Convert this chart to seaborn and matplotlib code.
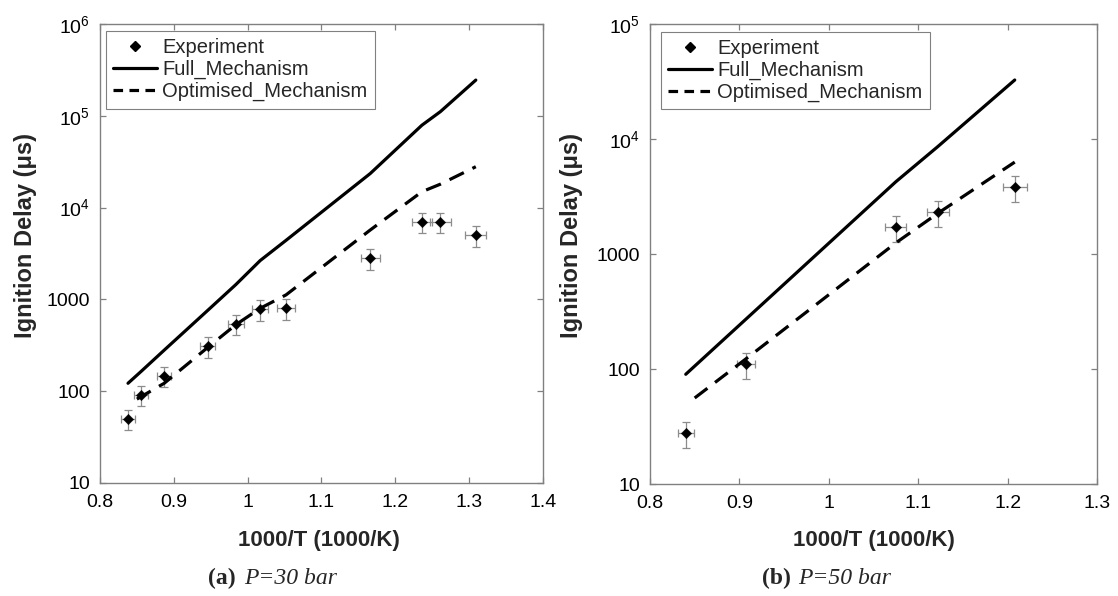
import numpy as np
import pandas as pd
import matplotlib
matplotlib.use("Agg")
import matplotlib.pyplot as plt
from matplotlib.lines import Line2D
import seaborn as sns

# ---- data ----
# (a) P = 30 bar
exp30_x = [0.838, 0.856, 0.887, 0.946, 0.984, 1.017, 1.052, 1.166, 1.236, 1.261, 1.309]
exp30_y = [50, 92, 147, 310, 543, 780, 800, 2800, 6970, 6970, 4990]
full30_x = [0.838, 0.856, 0.887, 0.946, 0.984, 1.017, 1.052, 1.166, 1.236, 1.261, 1.309]
full30_y = [122, 165, 280, 760, 1450, 2650, 4400, 23500, 79000, 111000, 245000]
opt30_x = [0.850, 0.887, 0.946, 0.984, 1.017, 1.052, 1.166, 1.236, 1.261, 1.309]
opt30_y = [82, 122, 300, 530, 800, 1120, 5700, 14900, 18000, 27900]

# (b) P = 50 bar
exp50_x = [0.840, 0.907, 1.075, 1.122, 1.208]
exp50_y = [27.6, 110, 1706, 2307, 3800]
full50_x = [0.840, 0.907, 1.075, 1.122, 1.208]
full50_y = [90, 270, 4250, 8600, 32600]
opt50_x = [0.850, 0.907, 1.075, 1.122, 1.208]
opt50_y = [56, 122, 1250, 2260, 6300]

# relative uncertainties of the measurements
Y_ERR_FRAC = 0.25
X_ERR_FRAC = 0.011

ticks30 = [10, 100, 1000, 1e4, 1e5, 1e6]
ticklabels30 = ["10", "100", "1000", r"$\mathregular{10^4}$", r"$\mathregular{10^5}$", r"$\mathregular{10^6}$"]
ticks50 = [10, 100, 1000, 1e4, 1e5]
ticklabels50 = ["10", "100", "1000", r"$\mathregular{10^4}$", r"$\mathregular{10^5}$"]

sns.set_theme(style="ticks")
plt.rcParams["font.family"] = ["Liberation Sans", "DejaVu Sans"]
plt.rcParams["mathtext.fontset"] = "custom"
plt.rcParams["mathtext.rm"] = "Liberation Sans"

GRAY = "#808080"
ERR_GRAY = "#8c8c8c"


def draw_panel(ax, ex, ey, fx, fy, ox, oy, xlim, ylim, ticks, ticklabels, xticks):
    exp = pd.DataFrame({"x": ex, "y": ey})
    full = pd.DataFrame({"x": fx, "y": fy})
    opt = pd.DataFrame({"x": ox, "y": oy})

    ax.errorbar(exp["x"], exp["y"], xerr=exp["x"] * X_ERR_FRAC,
                yerr=exp["y"] * Y_ERR_FRAC, fmt="none", ecolor=ERR_GRAY,
                elinewidth=0.9, capsize=3, capthick=0.9, zorder=2)
    sns.lineplot(data=full, x="x", y="y", ax=ax, color="black", lw=2.3,
                 sort=False, zorder=3)
    sns.lineplot(data=opt, x="x", y="y", ax=ax, color="black", lw=2.3,
                 linestyle=(0, (5, 3)), sort=False, zorder=3)
    sns.scatterplot(data=exp, x="x", y="y", ax=ax, marker="D", s=28,
                    color="black", edgecolor="black", linewidth=0.3, zorder=4)

    ax.set_yscale("log")
    ax.set_xlim(*xlim)
    ax.set_ylim(*ylim)
    ax.set_xticks(xticks)
    ax.set_xticklabels([f"{t:g}" for t in xticks])
    ax.set_yticks(ticks)
    ax.set_yticklabels(ticklabels)
    ax.yaxis.set_minor_locator(matplotlib.ticker.NullLocator())

    for sp in ax.spines.values():
        sp.set_visible(True)
        sp.set_color(GRAY)
        sp.set_linewidth(1.0)
    ax.tick_params(axis="both", which="both", direction="in", length=4,
                   width=0.9, color=GRAY, labelsize=14, top=True, right=True,
                   labelcolor="black")
    ax.tick_params(axis="x", pad=8)
    ax.tick_params(axis="y", pad=7)

    ax.set_xlabel("1000/T (1000/K)", fontsize=16, fontweight="bold")
    ax.set_ylabel("Ignition Delay (\u03bcs)", fontsize=17, fontweight="bold")

    handles = [
        Line2D([], [], ls="none", marker="D", ms=5, color="black"),
        Line2D([], [], color="black", lw=2.3),
        Line2D([], [], color="black", lw=2.3, ls=(0, (3, 2))),
    ]
    leg = ax.legend(handles, ["Experiment", "Full_Mechanism", "Optimised_Mechanism"],
                    loc="upper left", fontsize=14.5, frameon=True, fancybox=False,
                    framealpha=1, edgecolor=GRAY, handlelength=2.2,
                    handletextpad=0.25, labelspacing=0.15, borderpad=0.35,
                    borderaxespad=0)
    leg.get_frame().set_linewidth(0.8)
    return leg


fig = plt.figure(figsize=(11.18, 5.96), dpi=100)
ax1 = fig.add_axes([0.0894, 0.1896, 0.3963, 0.7701])
ax2 = fig.add_axes([0.5814, 0.1879, 0.3998, 0.7718])

leg1 = draw_panel(ax1, exp30_x, exp30_y, full30_x, full30_y, opt30_x, opt30_y,
                  (0.8, 1.4), (10, 1e6), ticks30, ticklabels30,
                  [0.8, 0.9, 1.0, 1.1, 1.2, 1.3, 1.4])
leg1.set_bbox_to_anchor((0.0135, 0.985), transform=ax1.transAxes)
ax1.yaxis.set_label_coords(-0.142, 0.54)
ax1.xaxis.set_label_coords(0.494, -0.102)

leg2 = draw_panel(ax2, exp50_x, exp50_y, full50_x, full50_y, opt50_x, opt50_y,
                  (0.8, 1.3), (10, 1e5), ticks50, ticklabels50,
                  [0.8, 0.9, 1.0, 1.1, 1.2, 1.3])
leg2.set_bbox_to_anchor((0.0246, 0.983), transform=ax2.transAxes)
ax2.yaxis.set_label_coords(-0.15, 0.54)
ax2.xaxis.set_label_coords(0.501, -0.1)

serif = ["Liberation Serif", "DejaVu Serif"]
cap_y = 1 - 578 / 596
fig.text(208 / 1118, cap_y, "(a)", family=serif, fontweight="bold", fontsize=17, va="center", ha="left")
fig.text(244 / 1118, cap_y, "P=30 bar", family=serif, style="italic", fontsize=17, va="center", ha="left")
fig.text(762 / 1118, cap_y, "(b)", family=serif, fontweight="bold", fontsize=17, va="center", ha="left")
fig.text(798 / 1118, cap_y, "P=50 bar", family=serif, style="italic", fontsize=17, va="center", ha="left")

fig.savefig("out.png", dpi=100)
